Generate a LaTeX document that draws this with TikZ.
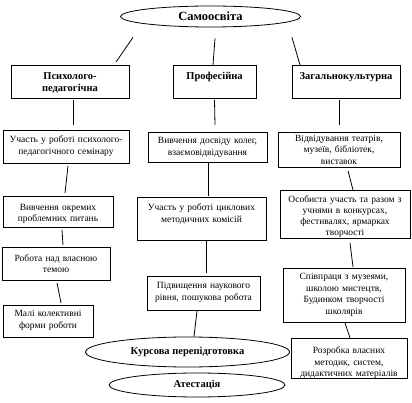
\documentclass[tikz,border=0pt]{standalone}
\usepackage{fontspec}
\setmainfont{Liberation Serif}
\usetikzlibrary{shapes.geometric}

\begin{document}
\begin{tikzpicture}[x=1pt,y=-1pt,line width=0.8pt,
    box/.style={draw, rectangle, anchor=north, align=center, inner xsep=0pt, inner ysep=0pt,
      font=\fontsize{9.5}{11.5}\selectfont},
    head/.style={box, font=\bfseries\fontsize{10.5}{12}\selectfont},
    oval/.style={draw, ellipse, inner sep=0pt, font=\bfseries\fontsize{10.5}{12}\selectfont}]
  \useasboundingbox (0,0) rectangle (412,403);

  % Top oval
  \node[oval, minimum width=180, minimum height=21, font=\bfseries\fontsize{12.5}{14}\selectfont] (self) at (210.5,16.5) {Самоосвіта};

  % Three directions
  \node[head, text width=118, text height=14, text depth=19] (psy) at (70,65) {Психолого-\\педагогічна};
  \node[head, text width=83, text height=14, text depth=19] (prof) at (214.5,65) {Професійна};
  \node[head, text width=108, text height=14, text depth=19] (cult) at (346,65) {Загальнокультурна};
  \draw ([shift={(-77.5,10)}]self.south) -- ([shift={(46,-3)}]psy.north);
  \draw ([shift={(4.5,11)}]self.south) -- ([shift={(-1.5,0)}]prof.north);
  \draw ([shift={(81.5,10)}]self.south) -- ([shift={(-46,0)}]cult.north);

  % Left column
  \node[box, text width=126, text height=12.5, text depth=20.5] (psy1) at (66,130) {Участь у роботі психолого-\\педагогічного семінару};
  \node[box, text width=110, text height=14, text depth=17] (psy2) at (58,196) {Вивчення окремих\\проблемних питань};
  \node[box, text width=108, text height=14, text depth=19] (psy3) at (56,247) {Робота над власною\\темою};
  \node[box, text width=90, text height=11.5, text depth=20.5] (psy4) at (48,305) {Малі колективні\\форми роботи};
  \draw ([shift={(3,1)}]psy.south) -- ([shift={(7,-5)}]psy1.north);
  \draw ([shift={(2,2)}]psy1.south) -- ([shift={(7,-3)}]psy2.north);
  \draw ([shift={(4,2)}]psy2.south) -- ([shift={(7,-2)}]psy3.north);
  \draw ([shift={(1,2)}]psy3.south) -- ([shift={(13,-2)}]psy4.north);

  % Middle column
  \node[box, text width=119, text height=11.5, text depth=18.5] (prof1) at (207.5,132) {Вивчення досвіду колег,\\взаємовідвідування};
  \node[box, text width=129, text height=13.5, text depth=29.5] (prof2) at (201.5,197) {Участь у роботі циклових\\методичних комісій};
  \node[box, text width=113, text height=12.5, text depth=21.5] (prof3) at (203.5,276) {Підвищення наукового\\рівня, пошукова робота};
  \draw ([shift={(0,1)}]prof.south) -- ([shift={(7.5,-7)}]prof1.north);
  \draw ([shift={(0.5,0)}]prof1.south) -- ([shift={(6.5,-1)}]prof2.north);
  \draw ([shift={(4.5,0)}]prof2.south) -- ([shift={(2.5,-3)}]prof3.north);

  % Right column
  \node[box, text width=122, text height=9, text depth=26] (cult1) at (339,132) {Відвідування театрів,\\музеїв, бібліотек,\\виставок};
  \node[box, text width=130, text height=12.5, text depth=35.5, font=\fontsize{9.5}{11}\selectfont] (cult2) at (345,190) {Особиста участь та разом з\\учнями в конкурсах,\\фестивалях, ярмарках\\творчості};
  \node[box, text width=122, text height=11.5, text depth=42.5] (cult3) at (344,268) {Співпраця з музеями,\\школою мистецтв,\\Будинком творчості\\школярів};
  \node[box, text width=116, text height=15.5, text depth=24.5] (cult4) at (349,338) {Розробка власних\\методик, систем,\\дидактичних матеріалів};
  \draw ([shift={(-6.5,1)}]cult.south) -- ([shift={(0.5,-7)}]cult1.north);
  \draw ([shift={(9,3)}]cult1.south) -- ([shift={(8,0)}]cult2.north);
  \draw ([shift={(5,4)}]cult2.south) -- ([shift={(9,-1)}]cult3.north);
  \draw ([shift={(1,0)}]cult3.south) -- ([shift={(1,0)}]cult4.north);

  % Bottom ovals
  \node[oval, minimum width=204, minimum height=30] (course) at (187.5,352) {Курсова перепідготовка};
  \node[oval, minimum width=176, minimum height=24] (attest) at (197,385) {Атестація};
  \draw ([shift={(-6.5,0)}]prof3.south) -- ([shift={(6.5,0)}]course.north);
\end{tikzpicture}
\end{document}
